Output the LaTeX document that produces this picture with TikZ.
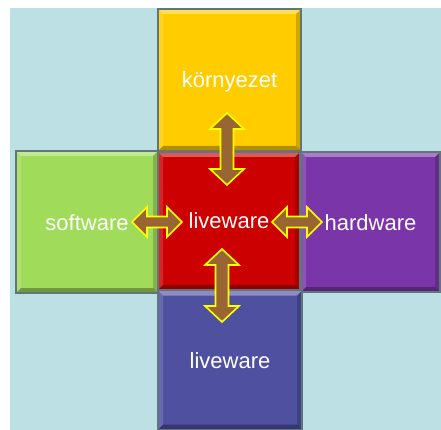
\documentclass[tikz,border=0pt]{standalone}
\usepackage{fontspec}
\setmainfont{Liberation Sans}
\definecolor{bgc}{RGB}{188,224,227}
\definecolor{cyel}{RGB}{255,204,0}
\definecolor{cred}{RGB}{204,0,0}
\definecolor{cgreen}{RGB}{160,220,90}
\definecolor{cpurple}{RGB}{122,54,168}
\definecolor{cblue}{RGB}{79,80,160}
\definecolor{cbrown}{RGB}{153,102,51}
\definecolor{carrowline}{RGB}{255,255,0}
\definecolor{cborder}{RGB}{96,118,124}
\newcommand\vdblarrow[3]{% x, ytop, ybottom
  \draw[arrowshape] (#1,#2) -- ({#1+17},{#2+16}) -- ({#1+6.5},{#2+16}) -- ({#1+6.5},{#3-16}) -- ({#1+17},{#3-16}) -- (#1,#3)
    -- ({#1-17},{#3-16}) -- ({#1-6.5},{#3-16}) -- ({#1-6.5},{#2+16}) -- ({#1-17},{#2+16}) -- cycle;}
\newcommand\hdblarrow[3]{% y, xleft, xright
  \draw[arrowshape] (#2,#1) -- ({#2+15},{#1-15}) -- ({#2+15},{#1-5.5}) -- ({#3-15},{#1-5.5}) -- ({#3-15},{#1-15}) -- (#3,#1)
    -- ({#3-15},{#1+15}) -- ({#3-15},{#1+5.5}) -- ({#2+15},{#1+5.5}) -- ({#2+15},{#1+15}) -- cycle;}
\begin{document}
\begin{tikzpicture}[x=1pt,y=-1pt,
  arrowshape/.style={fill=cbrown,draw=carrowline,line width=1.6pt,line join=miter},
  bevelbox/.style={draw=cborder,line width=1.4pt,fill=#1,text=white,inner sep=0pt,
    font=\fontsize{22}{26}\selectfont, text height=18pt, text depth=2pt,
    path picture={
      \fill[white,opacity=0.35] (path picture bounding box.north west) -- (path picture bounding box.north east)
        -- ([xshift=-5pt,yshift=-5pt]path picture bounding box.north east) -- ([xshift=5pt,yshift=-5pt]path picture bounding box.north west) -- cycle;
      \fill[white,opacity=0.15] (path picture bounding box.north west) -- ([xshift=5pt,yshift=-5pt]path picture bounding box.north west)
        -- ([xshift=5pt,yshift=5pt]path picture bounding box.south west) -- (path picture bounding box.south west) -- cycle;
      \fill[black,opacity=0.18] (path picture bounding box.north east) -- ([xshift=-5pt,yshift=-5pt]path picture bounding box.north east)
        -- ([xshift=-5pt,yshift=5pt]path picture bounding box.south east) -- (path picture bounding box.south east) -- cycle;
      \fill[black,opacity=0.3] (path picture bounding box.south west) -- ([xshift=5pt,yshift=5pt]path picture bounding box.south west)
        -- ([xshift=-5pt,yshift=5pt]path picture bounding box.south east) -- (path picture bounding box.south east) -- cycle;
    }}]
\useasboundingbox (0,0) rectangle (441,430);
\fill[white] (0,0) rectangle (441,430);
\fill[bgc] (10,8) rectangle (441,430);
% boxes
\node[bevelbox=cgreen, minimum width=142pt, minimum height=142pt] (soft) at (87,222) {software};
\node[bevelbox=cpurple, minimum width=139pt, minimum height=140pt] (hard) at (370.5,222) {hardware};
\node[bevelbox=cyel, minimum width=143pt, minimum height=142pt] (env) at (229.5,80) {környezet};
\node[bevelbox=cblue, minimum width=144pt, minimum height=139pt] (live2) at (230,360) {liveware};
\node[bevelbox=cred, minimum width=142pt, minimum height=138pt] (live) at (229,221) {liveware};
% arrows
\vdblarrow{227}{113}{185}
\hdblarrow{222}{132}{182}
\hdblarrow{222}{272}{322}
\vdblarrow{222}{249}{322}
\end{tikzpicture}
\end{document}
